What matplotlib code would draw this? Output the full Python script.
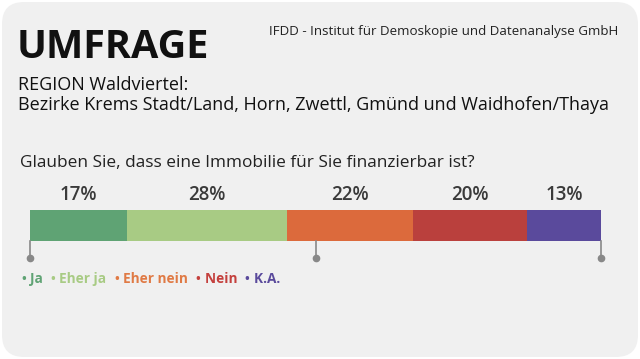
import matplotlib.pyplot as plt
from matplotlib.patches import FancyBboxPatch
from matplotlib.offsetbox import TextArea, HPacker, AnchoredOffsetbox

# Daten
categories = ['Ja', 'Eher ja', 'Eher nein', 'Nein', 'K.A.']
values = [17, 28, 22, 20, 13]
colors = ['#5fa374', '#a8cb84', '#dc6a3c', '#ba403d', '#5a4a9c']
legend_colors = ['#5fa374', '#a8cb84', '#e07a45', '#c4403d', '#5a4a9c']
tick_marks = [0, 50, 100]

plt.rcParams['font.family'] = ['Open Sans', 'DejaVu Sans']

W, H = 640, 359
fig = plt.figure(figsize=(W / 100, H / 100), dpi=100)
fig.patch.set_facecolor('white')

# Hintergrund-Achse in Pixelkoordinaten
bg = fig.add_axes([0, 0, 1, 1])
bg.set_xlim(0, W)
bg.set_ylim(H, 0)
bg.axis('off')
bg.add_patch(FancyBboxPatch((2, 2), W - 4, H - 4, boxstyle='round,pad=0,rounding_size=22',
                            facecolor='#f0f0f0', edgecolor='none'))

bg.text(17, 47, 'UMFRAGE', fontsize=28.5, fontweight='bold', color='#111111', va='center', ha='left')
bg.text(618, 31, 'IFDD - Institut für Demoskopie und Datenanalyse GmbH', fontsize=9.6,
        color='#222222', va='center', ha='right')
bg.text(18, 85, 'REGION Waldviertel:', fontsize=13, color='#111111', va='center')
bg.text(18, 105, 'Bezirke Krems Stadt/Land, Horn, Zwettl, Gmünd und Waidhofen/Thaya',
        fontsize=13, color='#111111', va='center')
bg.text(20, 163, 'Glauben Sie, dass eine Immobilie für Sie finanzierbar ist?', fontsize=12.4,
        color='#222222', va='center')

# Balken
ax = fig.add_axes([30 / W, (H - 241) / H, 571 / W, 31 / H])
ax.set_xlim(0, 100)
ax.set_ylim(0, 1)
ax.axis('off')
left = 0
for cat, val, col in zip(categories, values, colors):
    ax.barh(0.5, val, left=left, height=1, color=col, edgecolor='none')
    ax.text(left + val / 2, 1.5, f'{val}%', ha='center', va='center', fontsize=13.5,
            fontweight='semibold', color='#3a3a3a', clip_on=False)
    left += val

for t in tick_marks:
    ax.plot([t, t], [0, -0.55], color='#888888', lw=1.2, clip_on=False)
    ax.plot(t, -0.55, 'o', color='#888888', ms=4.5, clip_on=False)

# Legende
items = []
for cat, col in zip(categories, legend_colors):
    items.append(TextArea('•', textprops=dict(color=col, fontsize=9, fontweight='bold')))
    items.append(TextArea(cat + ' ', textprops=dict(color=col, fontsize=9.8, fontweight='bold')))
box = HPacker(children=items, align='center', pad=0, sep=3)
anch = AnchoredOffsetbox(loc='center left', child=box, pad=0, frameon=False,
                         bbox_to_anchor=(21 / W, 1 - 279 / H), bbox_transform=fig.transFigure,
                         borderpad=0)
bg.add_artist(anch)

plt.savefig('out.png', dpi=100, facecolor=fig.get_facecolor())
